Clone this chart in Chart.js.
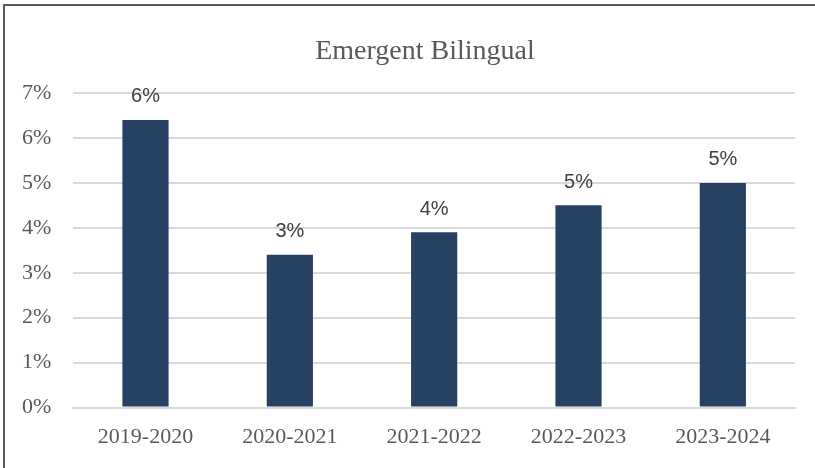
<!DOCTYPE html>
<html>
<head>
<meta charset="utf-8">
<script src="https://cdn.jsdelivr.net/npm/chart.js@4"></script>
<style>
  html, body { margin: 0; padding: 0; background: #fff; }
  #marco {
    position: absolute; left: 3px; top: 4px; width: 820px; height: 480px;
    border-left: 2px solid #5a5a5a; border-top: 2px solid #5a5a5a;
  }
  #caja { position: absolute; left: 0; top: 0; width: 815px; height: 468px; }
</style>
</head>
<body>
<div id="marco"></div>
<div id="caja"><canvas id="grafico" width="815" height="468"></canvas></div>
<script>
// Datos del gr치fico
const titulo = 'Emergent Bilingual';
const ciclos = ['2019-2020', '2020-2021', '2021-2022', '2022-2023', '2023-2024'];
const porcentajes = [6.4, 3.4, 3.9, 4.5, 5.0];
const etiquetas = ['6%', '3%', '4%', '5%', '5%'];

// Etiquetas de valor sobre cada barra y t칤tulo centrado en el marco
const etiquetasBarras = {
  id: 'etiquetasBarras',
  afterDatasetsDraw(chart) {
    const ctx = chart.ctx;
    const meta = chart.getDatasetMeta(0);
    ctx.save();
    ctx.font = '20px "Liberation Sans", Arial, sans-serif';
    ctx.fillStyle = '#404040';
    ctx.textAlign = 'center';
    ctx.textBaseline = 'bottom';
    meta.data.forEach((barra, i) => {
      ctx.fillText(etiquetas[i], barra.x, barra.y - 13);
    });
    ctx.font = '28px "Liberation Serif", serif';
    ctx.fillStyle = '#595959';
    ctx.textBaseline = 'middle';
    ctx.fillText(titulo, 425, 52);
    ctx.restore();
  }
};

new Chart(document.getElementById('grafico'), {
  type: 'bar',
  data: {
    labels: ciclos,
    datasets: [{
      data: porcentajes,
      backgroundColor: '#264163',
      borderWidth: 0,
      categoryPercentage: 1,
      barPercentage: 0.32
    }]
  },
  options: {
    responsive: false,
    animation: false,
    layout: { padding: { left: 0, right: 20, top: 93, bottom: 2 } },
    plugins: {
      legend: { display: false },
      tooltip: { enabled: false }
    },
    scales: {
      y: {
        min: 0,
        max: 7,
        ticks: {
          stepSize: 1,
          color: '#595959',
          padding: 22,
          font: { family: '"Liberation Serif", serif', size: 22 },
          callback: v => v + '%'
        },
        grid: { color: '#d9d9d9', lineWidth: 2, drawTicks: false },
        border: { display: false }
      },
      x: {
        ticks: {
          color: '#595959',
          padding: 16,
          font: { family: '"Liberation Serif", serif', size: 22 }
        },
        grid: { display: false, drawTicks: false },
        border: { color: '#d9d9d9', width: 2 }
      }
    }
  },
  plugins: [etiquetasBarras]
});
</script>
</body>
</html>
